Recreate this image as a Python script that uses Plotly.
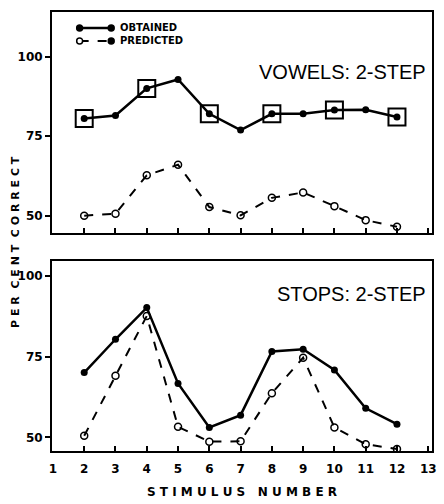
import plotly.graph_objects as go
from plotly.subplots import make_subplots

stimulus = [2, 3, 4, 5, 6, 7, 8, 9, 10, 11, 12]
vowels_obtained = [80.5, 81.5, 90, 92.8, 82, 76.9, 82, 82, 83.2, 83.3, 81]
vowels_predicted = [50, 50.6, 62.7, 66, 52.7, 50.1, 55.6, 57.3, 53, 48.6, 46.5]
stops_obtained = [70.1, 80.4, 90.2, 66.7, 53.1, 56.9, 76.6, 77.3, 70.9, 59, 54.1]
stops_predicted = [50.5, 69.1, 87.6, 53.3, 48.7, 48.8, 63.7, 74.7, 53.1, 47.9, 46.4]
boxed_stimuli = [2, 4, 6, 8, 10, 12]
x_ticks = list(range(1, 14))
y_ticks = [50, 75, 100]
legend_labels = ["OBTAINED", "PREDICTED"]

W, H = 444, 504
L, R, T, B = 52, 7, 12, 52
PW, PH = W - L - R, H - T - B

def px(xp):
    return (xp - L) / PW

def py(yp):
    return 1 - (yp - T) / PH

fig = make_subplots(rows=2, cols=1, vertical_spacing=0.063)

def add_panel(row, obtained, predicted):
    fig.add_trace(go.Scatter(
        x=stimulus, y=obtained, mode="lines+markers", name=legend_labels[0],
        line=dict(color="black", width=2.5),
        marker=dict(symbol="circle", size=7, color="black"),
        showlegend=False), row=row, col=1)
    fig.add_trace(go.Scatter(
        x=stimulus, y=predicted, mode="lines+markers", name=legend_labels[1],
        line=dict(color="black", width=2, dash="dash"),
        marker=dict(symbol="circle-open", size=7, color="black", line=dict(width=1.5)),
        showlegend=False), row=row, col=1)

add_panel(1, vowels_obtained, vowels_predicted)
add_panel(2, stops_obtained, stops_predicted)

box_y = [vowels_obtained[stimulus.index(s)] for s in boxed_stimuli]
fig.add_trace(go.Scatter(
    x=boxed_stimuli, y=box_y, mode="markers", showlegend=False, hoverinfo="skip",
    marker=dict(symbol="square-open", size=17, color="black", line=dict(width=2))),
    row=1, col=1)

axis_common = dict(showline=True, linecolor="black", linewidth=2, mirror=True,
                   showgrid=False, zeroline=False)
bold12 = dict(family="DejaVu Sans", size=12, color="black", weight="bold")

fig.update_xaxes(range=[0.97, 13.12], tickvals=x_ticks, ticks="inside", ticklen=5,
                 tickwidth=1.5, tickcolor="black", **axis_common)
fig.update_xaxes(showticklabels=False, row=1, col=1)
fig.update_xaxes(showticklabels=True, row=2, col=1, tickfont=bold12,
                 ticklabelstandoff=6,
                 title=dict(text="S T I M U L U S   N U M B E R", font=bold12, standoff=12))
fig.update_yaxes(tickvals=y_ticks, ticks="outside", ticklen=5, tickwidth=1.5,
                 tickcolor="black", tickfont=bold12, **axis_common)
fig.update_yaxes(range=[44.4, 114], domain=[py(234), 1], row=1, col=1)
fig.update_yaxes(range=[45.8, 104.5], domain=[0, py(262)], row=2, col=1)

fig.add_annotation(xref="x domain", yref="y domain", x=0.99, y=0.73, xanchor="right",
                   yanchor="middle", showarrow=False, text="VOWELS: 2-STEP",
                   font=dict(family="Liberation Sans", size=20, color="black"))
fig.add_annotation(xref="x2 domain", yref="y2 domain", x=0.99, y=0.83, xanchor="right",
                   yanchor="middle", showarrow=False, text="STOPS: 2-STEP",
                   font=dict(family="Liberation Sans", size=20, color="black"))
fig.add_annotation(xref="paper", yref="paper", x=px(15), y=py(242), xanchor="center",
                   yanchor="middle", showarrow=False, textangle=-90,
                   text="P E R  C E N T  C O R R E C T",
                   font=dict(family="DejaVu Sans", size=11, color="black", weight="bold"))

# hand-drawn style legend (line sample with end markers + label)
for i, label in enumerate(legend_labels):
    yy = py(28 + 13 * i)
    fig.add_shape(type="line", xref="paper", yref="paper", x0=px(80), x1=px(112),
                  y0=yy, y1=yy, line=dict(color="black", width=2.5 if i == 0 else 2,
                                          dash="solid" if i == 0 else "dash"))
    for xe in (80, 112):
        fig.add_shape(type="circle", xref="paper", yref="paper",
                      x0=px(xe - 3), x1=px(xe + 3), y0=yy - 3 / PH, y1=yy + 3 / PH,
                      line=dict(color="black", width=1.5),
                      fillcolor="black" if (i == 0 or xe == 112) else "white")
    fig.add_annotation(xref="paper", yref="paper", x=px(119), y=yy, xanchor="left",
                       yanchor="middle", showarrow=False, text=label,
                       font=dict(family="DejaVu Sans", size=10, color="black", weight="bold"))

fig.update_layout(
    width=W, height=H,
    margin=dict(l=L, r=R, t=T, b=B),
    paper_bgcolor="white", plot_bgcolor="white",
    showlegend=False,
)

fig.write_html("out.html", config={"displayModeBar": False},
               post_script="document.body.style.margin='0';")
